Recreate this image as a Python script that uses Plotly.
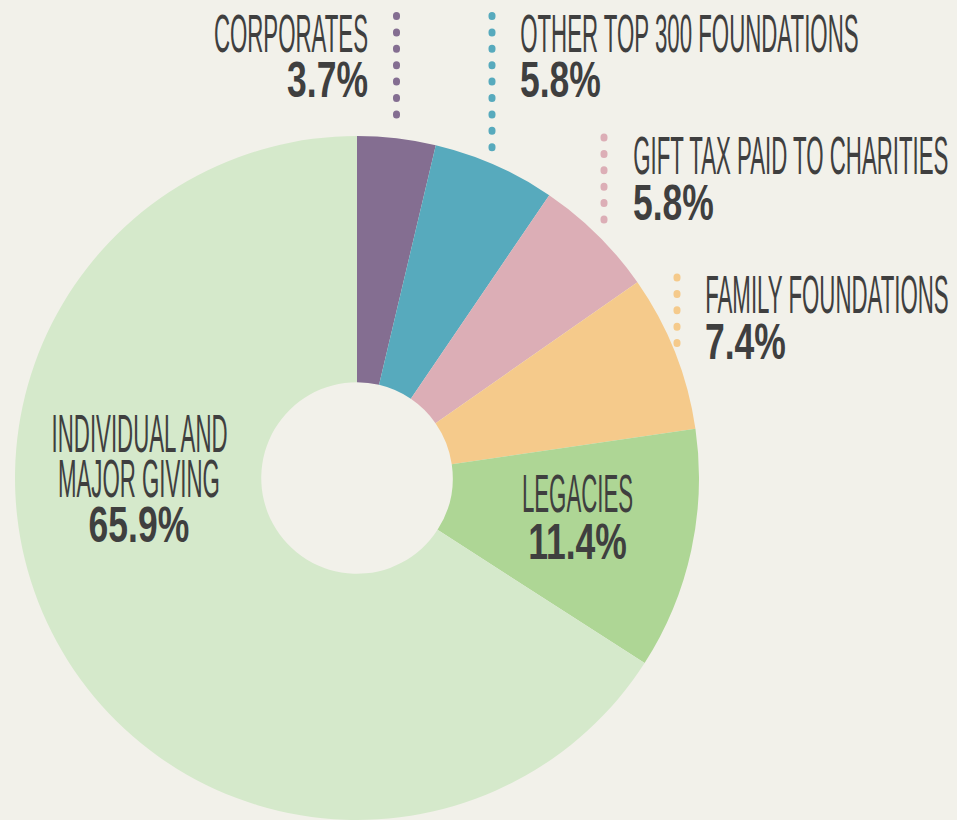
import json
import plotly.graph_objects as go

W, H = 957, 820

categories = ["CORPORATES", "OTHER TOP 300 FOUNDATIONS", "GIFT TAX PAID TO CHARITIES",
              "FAMILY FOUNDATIONS", "LEGACIES", "INDIVIDUAL AND MAJOR GIVING"]
values = [3.7, 5.8, 5.8, 7.4, 11.4, 65.9]
colors = ["#846e91", "#57aabd", "#dcaeb6", "#f5ca8b", "#aed695", "#d5e9cb"]
label_lines = [["CORPORATES"], ["OTHER TOP 300 FOUNDATIONS"], ["GIFT TAX PAID TO CHARITIES"],
               ["FAMILY FOUNDATIONS"], ["LEGACIES"], ["INDIVIDUAL AND", "MAJOR GIVING"]]

BG = "#f2f1ea"
TXT = "#3f3f3f"
FONT = "Liberation Sans, Arial, sans-serif"
LABEL_SIZE = 53
VALUE_SIZE = 50
# horizontal condensing of the type (the original uses an extra-condensed face)
SQUEEZE = {"label": 0.42, "value": 0.71}


def px(x):
    return x / W


def py(y):
    return 1 - y / H


fig = go.Figure()
fig.add_trace(go.Pie(
    labels=categories, values=values, sort=False, direction="clockwise", rotation=0,
    hole=0.28, marker=dict(colors=colors, line=dict(width=0)),
    textinfo="none", hoverinfo="label+value", showlegend=False,
    domain=dict(x=[px(15), px(699)], y=[0, py(136)]),
))

# layout of the text blocks: (slice index, x, xanchor, label line centres, value centre)
placements = [
    (0, 368, "right", [33], 80.5),
    (1, 520, "left", [33], 80.5),
    (2, 633, "left", [155.5], 202.5),
    (3, 705, "left", [294], 341.5),
    (4, 577, "center", [493], 541.5),
    (5, 139, "center", [433.5, 479], 524.5),
]
# dotted leader lines: (slice index, x, y top, y bottom)
leaders = [(0, 396.5, 15.5, 129), (1, 492, 15.5, 149), (2, 604, 137, 230), (3, 677, 277, 354)]

annotations = []
for i, x, xa, lines, yv in placements:
    for line, yl in zip(label_lines[i], lines):
        annotations.append(dict(x=px(x), y=py(yl), xref="paper", yref="paper", xanchor=xa,
                                yanchor="middle", text=line, showarrow=False, name="label",
                                borderpad=0, borderwidth=0,
                                font=dict(family=FONT, size=LABEL_SIZE, color=TXT)))
    annotations.append(dict(x=px(x), y=py(yv), xref="paper", yref="paper", xanchor=xa,
                            yanchor="middle", text=f"{values[i]:.1f}%", showarrow=False, name="value",
                            borderpad=0, borderwidth=0,
                            font=dict(family=FONT, size=VALUE_SIZE, color=TXT, weight="bold")))

shapes = []
for i, x, y0, y1 in leaders:
    shapes.append(dict(type="line", xref="paper", yref="paper", x0=px(x), x1=px(x),
                       y0=py(y0), y1=py(y1),
                       line=dict(color=colors[i], width=7, dash="1px,15.4px")))

fig.update_layout(
    width=W, height=H, margin=dict(l=0, r=0, t=0, b=0),
    paper_bgcolor=BG, plot_bgcolor=BG,
    annotations=annotations, shapes=shapes,
)

post = """
document.documentElement.style.margin='0';
document.body.style.margin='0';
document.body.style.background='__BG__';
var gd = document.querySelector('.plotly-graph-div');
var SX = __SX__;
function squeeze(){
  var anns = (gd._fullLayout && gd._fullLayout.annotations) || [];
  gd.querySelectorAll('g.annotation').forEach(function(g){
    var a = anns[+g.getAttribute('data-index')];
    if(!a) return;
    var f = SX[a.name];
    if(!f) return;
    var t = g.querySelector('text.annotation-text');
    if(!t) return;
    var o = a.xanchor === 'left' ? 'left' : (a.xanchor === 'right' ? 'right' : 'center');
    t.style.transformBox = 'fill-box';
    t.style.transformOrigin = o + ' center';
    t.style.transform = 'scaleX(' + f + ')';
  });
  gd.querySelectorAll('.shapelayer path').forEach(function(p){ p.style.strokeLinecap = 'round'; });
}
squeeze();
gd.on('plotly_afterplot', squeeze);
""".replace("__BG__", BG).replace("__SX__", json.dumps(SQUEEZE))

fig.write_html("out.html", post_script=post, config={"displayModeBar": False})
